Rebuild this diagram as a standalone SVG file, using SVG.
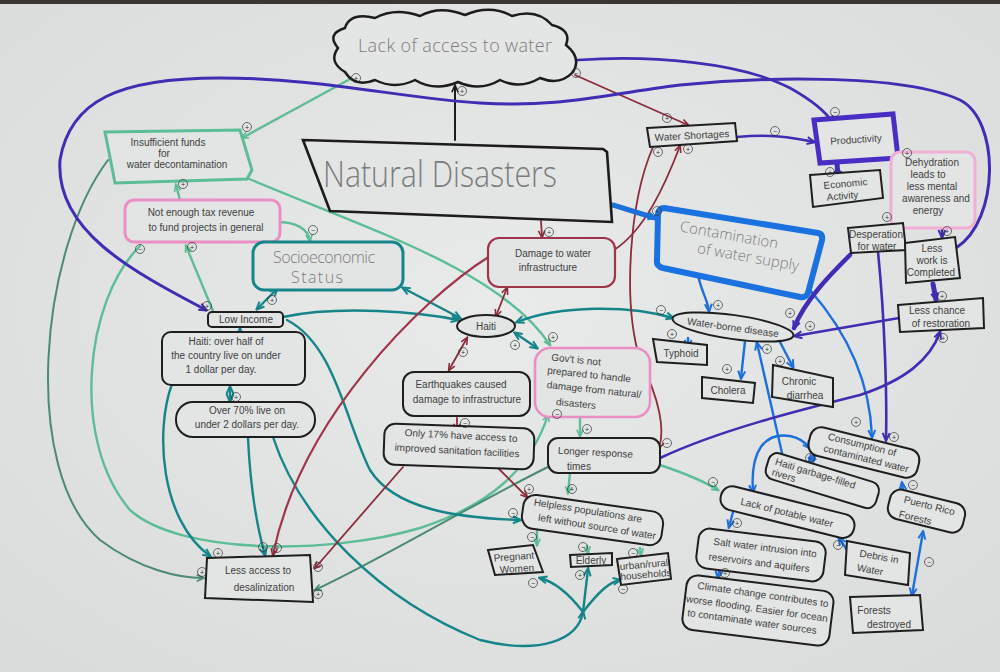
<svg xmlns="http://www.w3.org/2000/svg" width="1000" height="672" viewBox="0 0 1000 672">
<defs>
<radialGradient id="paper" cx="50%" cy="45%" r="75%"><stop offset="0" stop-color="#e9ebea"/><stop offset="1" stop-color="#d9dbda"/></radialGradient>
<marker id="ak" viewBox="0 0 10 10" refX="8" refY="5" markerWidth="9" markerHeight="9" markerUnits="userSpaceOnUse" orient="auto-start-reverse"><path d="M1,1.5 L9,5 L1,8.5" fill="none" stroke="#1c1c1c" stroke-width="1.8"/></marker>
<marker id="am" viewBox="0 0 10 10" refX="8" refY="5" markerWidth="9" markerHeight="9" markerUnits="userSpaceOnUse" orient="auto-start-reverse"><path d="M1,1.5 L9,5 L1,8.5" fill="none" stroke="#5cbd96" stroke-width="1.8"/></marker>
<marker id="ag" viewBox="0 0 10 10" refX="8" refY="5" markerWidth="9" markerHeight="9" markerUnits="userSpaceOnUse" orient="auto-start-reverse"><path d="M1,1.5 L9,5 L1,8.5" fill="none" stroke="#4b8a73" stroke-width="1.8"/></marker>
<marker id="at" viewBox="0 0 10 10" refX="8" refY="5" markerWidth="10" markerHeight="10" markerUnits="userSpaceOnUse" orient="auto-start-reverse"><path d="M1,1.5 L9,5 L1,8.5" fill="none" stroke="#15858a" stroke-width="2"/></marker>
<marker id="ar" viewBox="0 0 10 10" refX="8" refY="5" markerWidth="9" markerHeight="9" markerUnits="userSpaceOnUse" orient="auto-start-reverse"><path d="M1,1.5 L9,5 L1,8.5" fill="none" stroke="#8b2c3b" stroke-width="1.8"/></marker>
<marker id="ab" viewBox="0 0 10 10" refX="8" refY="5" markerWidth="10" markerHeight="10" markerUnits="userSpaceOnUse" orient="auto-start-reverse"><path d="M1,1.5 L9,5 L1,8.5" fill="none" stroke="#1e6fd9" stroke-width="2"/></marker>
<marker id="ap" viewBox="0 0 10 10" refX="8" refY="5" markerWidth="10" markerHeight="10" markerUnits="userSpaceOnUse" orient="auto-start-reverse"><path d="M1,1.5 L9,5 L1,8.5" fill="none" stroke="#3f2db3" stroke-width="2"/></marker>
<style>
.t{font-family:"Liberation Sans",Arial,sans-serif;font-size:10px;fill:#404040;text-anchor:middle}
.big{font-family:"Open Sans","Liberation Sans",sans-serif;font-weight:300;fill:#7c7c7c;text-anchor:middle}
.box{fill:#e3e5e4;stroke:#1e1e1e;stroke-width:2}
.c path{fill:none;stroke-linecap:round;stroke-linejoin:round}
.k{stroke:#1c1c1c;stroke-width:2;marker-end:url(#ak)}
.m{stroke:#5cbd96;stroke-width:2.4;marker-end:url(#am)}
.g{stroke:#4b8a73;stroke-width:2;marker-end:url(#ag)}
.tl{stroke:#15858a;stroke-width:2.4;marker-end:url(#at)}
.r{stroke:#8b2c3b;stroke-width:1.8;marker-end:url(#ar)}
.b{stroke:#1e6fd9;stroke-width:2.4;marker-end:url(#ab)}
.p{stroke:#3f2db3;stroke-width:2.6;marker-end:url(#ap)}
.sg circle{fill:none;stroke:#333;stroke-width:0.7}
.sg text{font-family:"Liberation Sans",Arial,sans-serif;font-size:7px;fill:#333;text-anchor:middle}
</style>
</defs>
<rect width="1000" height="672" fill="url(#paper)"/>
<rect width="1000" height="4" fill="#3b3631"/>

<g id="connectors" class="c">
<path class="k" d="M455,140 L455,86"/>
<path class="m" d="M352,78 L242,138"/>
<path class="m" d="M180,200 L176,185"/>
<path class="m" d="M247,178 C370,230 500,270 550,345"/>
<path class="m" d="M213,311 L186,246"/>
<path class="m" d="M277,222 C295,222 308,228 310,241"/>
<path class="m" d="M140,246 C85,300 70,440 130,510 C180,555 330,555 420,528 C490,505 530,470 548,415"/>
<path class="m" d="M660,465 C690,475 705,482 718,490"/>
<path class="m" d="M580,417 L580,436"/>
<path class="m" d="M570,473 L568,493"/>
<path class="m" d="M537,531 L537,545"/>
<path class="m" d="M587,546 L588,553"/>
<path class="m" d="M640,548 L641,555"/>
<path class="g" d="M108,160 C40,250 20,470 100,540 C140,570 180,578 203,578"/>
<path class="g" d="M552,465 C480,500 380,560 315,590"/>
<path class="tl" style="marker-start:url(#at)" d="M257,309 L277,289"/>
<path class="tl" d="M283,317 C340,305 420,312 458,320"/>
<path class="tl" style="marker-start:url(#at)" d="M403,288 L460,318"/>
<path class="tl" d="M287,320 C335,345 345,420 370,470 C395,510 460,518 520,520"/>
<path class="tl" d="M172,384 C155,430 160,520 210,556"/>
<path class="tl" d="M248,438 C250,480 255,520 265,555"/>
<path class="tl" d="M273,437 C300,520 380,600 480,640 C540,655 578,640 583,612"/>
<path class="tl" d="M583,612 C570,595 555,582 540,578"/>
<path class="tl" d="M583,612 L588,569"/>
<path class="tl" d="M583,612 C600,590 610,582 620,580"/>
<path class="tl" style="marker-start:url(#at)" d="M515,333 L537,348"/>
<path class="tl" style="marker-start:url(#at)" d="M517,322 C560,305 630,305 673,318"/>
<path class="tl" d="M240,334 L240,329"/>
<path class="tl" style="marker-start:url(#at)" d="M230,401 L230,387"/>
<path class="r" d="M575,75 L688,125"/>
<path class="r" d="M541,221 L542,237"/>
<path class="r" d="M614,250 C645,230 665,185 680,146"/>
<path class="r" d="M653,147 C630,200 622,300 640,360 C660,400 665,430 659,448"/>
<path class="r" style="marker-start:url(#ar)" d="M507,288 L496,316"/>
<path class="r" style="stroke:#a0344a;stroke-width:2.2" d="M490,256 C420,300 300,420 273,555"/>
<path class="r" style="marker-start:url(#ar)" d="M467,338 L449,370"/>
<path class="r" d="M457,418 L457,430"/>
<path class="r" d="M403,467 L315,568"/>
<path class="r" d="M497,467 L527,497"/>
<path class="b" style="stroke-width:5" d="M613,205 L655,218"/>
<path class="b" d="M697,270 C700,290 708,300 709,311"/>
<path class="b" d="M810,290 C845,330 870,380 872,437"/>
<path class="b" d="M688,338 L688,347"/>
<path class="b" d="M745,341 L741,378"/>
<path class="b" d="M780,342 L793,367"/>
<path class="b" d="M782,453 L757,343"/>
<path class="b" style="marker-start:url(#ab)" d="M753,492 C750,450 765,432 790,436 C800,438 805,442 810,448"/>
<path class="b" style="marker-start:url(#ab)" d="M809,462 L815,455"/>
<path class="b" d="M903,491 L902,483"/>
<path class="b" style="marker-start:url(#ab)" d="M912,595 L923,532"/>
<path class="b" d="M733,512 L729,527"/>
<path class="b" d="M720,564 L718,578"/>
<path class="b" d="M847,550 L839,538"/>
<path class="p" d="M578,60 C650,55 740,62 790,88 C815,102 828,115 833,123"/>
<path class="p" d="M737,137 C770,134 790,137 814,142"/>
<path class="p" style="stroke-width:5" d="M837,163 L838,178"/>
<path class="p" style="stroke-width:4" d="M896,148 L899,159"/>
<path class="p" d="M902,213 L898,223"/>
<path class="p" d="M942,229 L942,237"/>
<path class="p" style="stroke-width:5" d="M933,284 L936,300"/>
<path class="p" style="stroke-width:3" d="M956,248 C1000,220 1000,120 960,100 C900,72 750,78 680,85 C600,95 560,108 480,103 C400,98 320,78 220,78 C120,78 70,100 60,160 C55,230 130,270 206,310"/>
<path class="p" style="stroke-width:4.5" d="M850,255 C830,275 805,300 794,328"/>
<path class="p" d="M899,318 C860,325 830,330 795,336"/>
<path class="p" d="M878,252 C885,320 887,400 886,440"/>
<path class="p" d="M660,458 C720,430 800,410 860,395 C905,380 930,360 940,332"/>
</g>

<g id="n-lack">
<path d="M345,72 Q328,62 338,48 Q326,34 345,28 Q350,12 375,18 Q395,7 420,16 Q440,5 465,15 Q490,4 512,16 Q537,8 552,25 Q572,30 566,45 Q582,58 573,72 Q560,86 540,78 Q520,90 500,80 Q480,92 458,82 Q435,92 415,80 Q395,90 375,80 Q355,88 345,72 Z" fill="#e4e6e5" stroke="#1c1c1c" stroke-width="2.5"/>
<text class="big" x="455" y="52" font-size="18" textLength="194">Lack of access to water</text>
</g>
<g id="n-natural">
<path d="M303,140 L603,149 L607,152 L612,222 L330,211 Z" fill="#e3e5e4" stroke="#1c1c1c" stroke-width="2.6"/>
<text class="big" x="440" y="187" font-size="36" textLength="234" lengthAdjust="spacingAndGlyphs">Natural Disasters</text>
</g>
<g id="n-insufficient">
<path d="M105,132 L240,130 L252,170 L247,179 L115,183 Z" fill="#e3e5e4" stroke="#5cbd96" stroke-width="3"/>
<text class="t" x="168" y="146">Insufficient funds</text>
<text class="t" x="164" y="157">for</text>
<text class="t" x="177" y="168">water decontamination</text>
</g>
<g id="n-taxrev">
<rect x="125" y="200" width="155" height="42" rx="9" fill="#e3e5e4" stroke="#ea8ec5" stroke-width="3"/>
<text class="t" x="201" y="216">Not enough tax revenue</text>
<text class="t" x="206" y="231">to fund projects in general</text>
</g>
<g id="n-socio">
<rect x="253" y="242" width="150" height="48" rx="11" fill="#e3e5e4" stroke="#15858a" stroke-width="3"/>
<text class="big" x="324" y="263" font-size="16" textLength="102">Socioeconomic</text>
<text class="big" x="317" y="283" font-size="16" textLength="52">Status</text>
</g>
<g id="n-lowincome">
<rect x="208" y="312" width="75" height="15" rx="4" class="box"/>
<text class="t" x="246" y="323">Low Income</text>
</g>
<g id="n-haitihalf">
<rect x="162" y="332" width="143" height="53" rx="9" class="box"/>
<text class="t" x="226" y="345">Haiti: over half of</text>
<text class="t" x="226" y="359">the country live on under</text>
<text class="t" x="221" y="373">1 dollar per day.</text>
</g>
<g id="n-over70">
<rect x="176" y="402" width="139" height="35" rx="17" class="box"/>
<text class="t" x="247" y="414">Over 70% live on</text>
<text class="t" x="247" y="428">under 2 dollars per day.</text>
</g>
<g id="n-haiti">
<ellipse cx="486" cy="326" rx="29" ry="11" class="box"/>
<text class="t" x="486" y="330" font-size="11">Haiti</text>
</g>
<g id="n-damage">
<rect x="488" y="238" width="127" height="49" rx="11" fill="#e3e5e4" stroke="#a0344a" stroke-width="2.2"/>
<text class="t" x="553" y="257">Damage to water</text>
<text class="t" x="548" y="271">infrastructure</text>
</g>
<g id="n-shortages">
<path d="M647,128 L735,123 L737,141 L650,147 Z" class="box"/>
<text class="t" x="692" y="139" transform="rotate(-3 692 136)">Water Shortages</text>
</g>
<g id="n-productivity">
<path d="M814,120 L893,114 L898,158 L820,163 Z" fill="#e3e5e4" stroke="#4a2ec4" stroke-width="5"/>
<text class="t" x="856" y="143" font-size="12" fill="#777" transform="rotate(-4 856 140)">Productivity</text>
</g>
<g id="n-economic">
<path d="M810,175 L880,170 L883,198 L813,207 Z" class="box"/>
<text class="t" x="846" y="187" transform="rotate(-5 846 190)">Economic</text>
<text class="t" x="842" y="199" transform="rotate(-5 846 190)">Activity</text>
</g>
<g id="n-dehydration">
<rect x="891" y="152" width="84" height="76" rx="9" fill="#e3e5e4" stroke="#f2aed4" stroke-width="3"/>
<text class="t" x="932" y="166" font-size="9">Dehydration</text>
<text class="t" x="928" y="178" font-size="9">leads to</text>
<text class="t" x="932" y="190" font-size="9">less mental</text>
<text class="t" x="936" y="202" font-size="9">awareness and</text>
<text class="t" x="928" y="214" font-size="9">energy</text>
</g>
<g id="n-contamination">
<path d="M664,208 L818,233 Q823,234 822,240 L808,293 Q806,298 800,297 L663,268 Q656,266 657,260 L658,214 Q659,208 664,208 Z" fill="#e3e5e4" stroke="#1a72e0" stroke-width="6"/>
<text class="big" x="729" y="240" font-size="15" transform="rotate(10 729 236)">Contamination</text>
<text class="big" x="748" y="262" font-size="15" transform="rotate(10 748 258)">of water supply</text>
</g>
<g id="n-desperation">
<path d="M848,228 L903,223 L906,250 L851,253 Z" class="box"/>
<text class="t" x="876" y="238" font-size="9">Desperation</text>
<text class="t" x="877" y="250" font-size="9">for water</text>
</g>
<g id="n-lesswork">
<path d="M905,243 L955,237 L960,278 L906,283 Z" class="box"/>
<text class="t" x="932" y="252" font-size="9.5">Less</text>
<text class="t" x="932" y="264" font-size="9.5">work is</text>
<text class="t" x="931" y="276" font-size="9.5">Completed</text>
</g>
<g id="n-restoration">
<path d="M898,305 L983,298 L984,328 L900,332 Z" class="box"/>
<text class="t" x="937" y="314">Less chance</text>
<text class="t" x="941" y="327">of restoration</text>
</g>
<g id="n-waterborne">
<ellipse cx="733" cy="327" rx="61" ry="12" class="box" transform="rotate(8 733 327)"/>
<text class="t" x="733" y="331" transform="rotate(8 733 327)">Water-borne disease</text>
</g>
<g id="n-typhoid">
<path d="M653,339 L707,345 L707,365 L657,362 Z" class="box"/>
<text class="t" x="681" y="357" font-size="9.5">Typhoid</text>
</g>
<g id="n-cholera">
<path d="M702,377 L755,383 L753,403 L702,398 Z" class="box"/>
<text class="t" x="728" y="394" font-size="9.5">Cholera</text>
</g>
<g id="n-diarrhea">
<path d="M773,365 L833,378 L833,407 L772,397 Z" class="box"/>
<text class="t" x="799" y="385" font-size="9.5">Chronic</text>
<text class="t" x="805" y="399" font-size="9.5">diarrhea</text>
</g>
<g id="n-earthquakes">
<rect x="403" y="372" width="127" height="44" rx="11" class="box"/>
<text class="t" x="461" y="388">Earthquakes caused</text>
<text class="t" x="467" y="403">damage to infrastructure</text>
</g>
<g id="n-sanitation">
<rect x="384" y="426" width="150" height="41" rx="11" class="box" transform="rotate(2 459 446)"/>
<text class="t" x="461" y="439" transform="rotate(3 461 436)">Only 17% have access to</text>
<text class="t" x="457" y="454" transform="rotate(3 457 451)">improved sanitation facilities</text>
</g>
<g id="n-govt">
<rect x="535" y="348" width="115" height="69" rx="15" fill="#e3e5e4" stroke="#ea8ec5" stroke-width="2.6"/>
<text class="t" x="576" y="363" transform="rotate(6 576 360)">Gov't is not</text>
<text class="t" x="589" y="378" transform="rotate(6 589 375)">prepared to handle</text>
<text class="t" x="594" y="393" transform="rotate(6 594 390)">damage from natural/</text>
<text class="t" x="576" y="407" transform="rotate(6 576 404)">disasters</text>
</g>
<g id="n-response">
<rect x="548" y="438" width="112" height="35" rx="10" class="box"/>
<text class="t" x="558" y="456" font-size="13.5" style="text-anchor:start" transform="rotate(3 600 452)">Longer response</text>
<text class="t" x="567" y="470" font-size="12" style="text-anchor:start">times</text>
</g>
<g id="n-helpless">
<rect x="522" y="503" width="141" height="34" rx="12" class="box" transform="rotate(8 592 520)"/>
<text class="t" x="588" y="514" transform="rotate(9 588 511)">Helpless populations are</text>
<text class="t" x="597" y="530" transform="rotate(9 597 527)">left without source of water</text>
</g>
<g id="n-pregnant">
<path d="M488,550 L533,545 L543,572 L495,575 Z" class="box"/>
<text class="t" x="514" y="560" font-size="9" transform="rotate(-4 514 558)">Pregnant</text>
<text class="t" x="517" y="572" font-size="9" transform="rotate(-4 517 570)">Women</text>
</g>
<g id="n-elderly">
<path d="M570,555 L612,553 L612,565 L571,567 Z" class="box"/>
<text class="t" x="591" y="564" font-size="10">Elderly</text>
</g>
<g id="n-urban">
<path d="M617,559 L668,553 L671,579 L621,585 Z" class="box"/>
<text class="t" x="644" y="568" font-size="7" transform="rotate(-5 644 566)">urban/rural</text>
<text class="t" x="646" y="578" font-size="7" transform="rotate(-5 646 576)">households</text>
</g>
<g id="n-desal">
<path d="M207,558 L310,555 L313,602 L205,598 Z" class="box"/>
<text class="t" x="258" y="574" font-size="12.5" fill="#555">Less access to</text>
<text class="t" x="264" y="591" font-size="12.5" fill="#555">desalinization</text>
</g>
<g id="n-consumption">
<rect x="808" y="438" width="112" height="29" rx="11" class="box" transform="rotate(14 864 452)"/>
<text class="t" x="862" y="448" transform="rotate(14 862 445)">Consumption of</text>
<text class="t" x="866" y="462" transform="rotate(14 866 459)">contaminated water</text>
</g>
<g id="n-garbage">
<g transform="rotate(17 822 480)">
<rect x="765" y="467" width="115" height="27" rx="9" class="box"/>
<text class="t" x="772" y="479" style="text-anchor:start">Haiti  garbage-filled</text>
<text class="t" x="772" y="490" style="text-anchor:start">rivers</text>
</g>
</g>
<g id="n-potable">
<rect x="719" y="500" width="137" height="24" rx="11" class="box" transform="rotate(14 787 512)"/>
<text class="t" x="787" y="516" font-size="12" transform="rotate(14 787 512)">Lack of potable water</text>
</g>
<g id="n-puerto">
<rect x="888" y="496" width="77" height="30" rx="11" class="box" transform="rotate(14 926 511)"/>
<text class="t" x="929" y="509" font-size="9" transform="rotate(14 929 507)">Puerto Rico</text>
<text class="t" x="915" y="521" font-size="9" transform="rotate(14 915 519)">Forests</text>
</g>
<g id="n-saltwater">
<rect x="697" y="535" width="128" height="40" rx="11" class="box" transform="rotate(7 761 555)"/>
<text class="t" x="765" y="551" font-size="11" transform="rotate(7 765 548)">Salt water intrusion into</text>
<text class="t" x="759" y="566" font-size="11" transform="rotate(7 759 563)">reservoirs and aquifers</text>
</g>
<g id="n-debris">
<path d="M847,541 L910,553 L908,585 L845,575 Z" class="box"/>
<text class="t" x="879" y="560" font-size="10" transform="rotate(10 879 557)">Debris in</text>
<text class="t" x="870" y="573" font-size="10" transform="rotate(10 870 570)">Water</text>
</g>
<g id="n-climate">
<rect x="684" y="583" width="148" height="55" rx="11" class="box" transform="rotate(7 758 610)"/>
<text class="t" x="763" y="598" font-size="9" transform="rotate(8 763 595)">Climate change contributes to</text>
<text class="t" x="757" y="612" font-size="9" transform="rotate(8 757 609)">worse flooding. Easier for ocean</text>
<text class="t" x="752" y="625" font-size="9" transform="rotate(8 752 622)">to contaminate water sources</text>
</g>
<g id="n-forests">
<path d="M850,597 L920,595 L923,630 L853,633 Z" class="box"/>
<text class="t" x="874" y="614" font-size="10">Forests</text>
<text class="t" x="889" y="628" font-size="10">destroyed</text>
</g>

<g id="signs" class="sg">
<g><circle cx="462" cy="91" r="4.5"/><text x="462" y="93.5">+</text></g>
<g><circle cx="356" cy="78" r="4.5"/><text x="356" y="80.5">+</text></g>
<g><circle cx="247" cy="127" r="4.5"/><text x="247" y="129.5">+</text></g>
<g><circle cx="183" cy="184" r="4.5"/><text x="183" y="186.5">+</text></g>
<g><circle cx="576" cy="73" r="4.5"/><text x="576" y="75.5">−</text></g>
<g><circle cx="667" cy="118" r="4.5"/><text x="667" y="120.5">+</text></g>
<g><circle cx="658" cy="152" r="4.5"/><text x="658" y="154.5">+</text></g>
<g><circle cx="688" cy="149" r="4.5"/><text x="688" y="151.5">+</text></g>
<g><circle cx="835" cy="112" r="4.5"/><text x="835" y="114.5">−</text></g>
<g><circle cx="775" cy="131" r="4.5"/><text x="775" y="133.5">−</text></g>
<g><circle cx="830" cy="172" r="4.5"/><text x="830" y="174.5">+</text></g>
<g><circle cx="907" cy="153" r="4.5"/><text x="907" y="155.5">+</text></g>
<g><circle cx="887" cy="217" r="4.5"/><text x="887" y="219.5">+</text></g>
<g><circle cx="947" cy="231" r="4.5"/><text x="947" y="233.5">+</text></g>
<g><circle cx="942" cy="296" r="4.5"/><text x="942" y="298.5">+</text></g>
<g><circle cx="657" cy="211" r="4.5"/><text x="657" y="213.5">+</text></g>
<g><circle cx="549" cy="232" r="4.5"/><text x="549" y="234.5">+</text></g>
<g><circle cx="718" cy="305" r="4.5"/><text x="718" y="307.5">+</text></g>
<g><circle cx="790" cy="313" r="4.5"/><text x="790" y="315.5">+</text></g>
<g><circle cx="810" cy="326" r="4.5"/><text x="810" y="328.5">+</text></g>
<g><circle cx="661" cy="310" r="4.5"/><text x="661" y="312.5">−</text></g>
<g><circle cx="672" cy="334" r="4.5"/><text x="672" y="336.5">+</text></g>
<g><circle cx="727" cy="369" r="4.5"/><text x="727" y="371.5">+</text></g>
<g><circle cx="767" cy="349" r="4.5"/><text x="767" y="351.5">+</text></g>
<g><circle cx="780" cy="361" r="4.5"/><text x="780" y="363.5">+</text></g>
<g><circle cx="943" cy="338" r="4.5"/><text x="943" y="340.5">+</text></g>
<g><circle cx="856" cy="422" r="4.5"/><text x="856" y="424.5">+</text></g>
<g><circle cx="894" cy="437" r="4.5"/><text x="894" y="439.5">+</text></g>
<g><circle cx="313" cy="230" r="4.5"/><text x="313" y="232.5">−</text></g>
<g><circle cx="207" cy="306" r="4.5"/><text x="207" y="308.5">+</text></g>
<g><circle cx="140" cy="249" r="4.5"/><text x="140" y="251.5">−</text></g>
<g><circle cx="192" cy="247" r="4.5"/><text x="192" y="249.5">+</text></g>
<g><circle cx="272" cy="300" r="4.5"/><text x="272" y="302.5">+</text></g>
<g><circle cx="236" cy="397" r="4.5"/><text x="236" y="399.5">+</text></g>
<g><circle cx="515" cy="345" r="4.5"/><text x="515" y="347.5">+</text></g>
<g><circle cx="553" cy="337" r="4.5"/><text x="553" y="339.5">+</text></g>
<g><circle cx="463" cy="352" r="4.5"/><text x="463" y="354.5">+</text></g>
<g><circle cx="465" cy="423" r="4.5"/><text x="465" y="425.5">−</text></g>
<g><circle cx="557" cy="414" r="4.5"/><text x="557" y="416.5">−</text></g>
<g><circle cx="587" cy="429" r="4.5"/><text x="587" y="431.5">+</text></g>
<g><circle cx="667" cy="443" r="4.5"/><text x="667" y="445.5">−</text></g>
<g><circle cx="529" cy="489" r="4.5"/><text x="529" y="491.5">+</text></g>
<g><circle cx="572" cy="489" r="4.5"/><text x="572" y="491.5">+</text></g>
<g><circle cx="513" cy="513" r="4.5"/><text x="513" y="515.5">−</text></g>
<g><circle cx="218" cy="553" r="4.5"/><text x="218" y="555.5">+</text></g>
<g><circle cx="263" cy="547" r="4.5"/><text x="263" y="549.5">+</text></g>
<g><circle cx="277" cy="548" r="4.5"/><text x="277" y="550.5">+</text></g>
<g><circle cx="202" cy="572" r="4.5"/><text x="202" y="574.5">+</text></g>
<g><circle cx="318" cy="567" r="4.5"/><text x="318" y="569.5">−</text></g>
<g><circle cx="318" cy="594" r="4.5"/><text x="318" y="596.5">+</text></g>
<g><circle cx="713" cy="482" r="4.5"/><text x="713" y="484.5">−</text></g>
<g><circle cx="737" cy="523" r="4.5"/><text x="737" y="525.5">+</text></g>
<g><circle cx="725" cy="573" r="4.5"/><text x="725" y="575.5">+</text></g>
<g><circle cx="838" cy="545" r="4.5"/><text x="838" y="547.5">−</text></g>
<g><circle cx="929" cy="562" r="4.5"/><text x="929" y="564.5">−</text></g>
<g><circle cx="913" cy="485" r="4.5"/><text x="913" y="487.5">−</text></g>
<g><circle cx="810" cy="458" r="4.5"/><text x="810" y="460.5">−</text></g>
<g><circle cx="532" cy="537" r="4.5"/><text x="532" y="539.5">−</text></g>
<g><circle cx="583" cy="547" r="4.5"/><text x="583" y="549.5">−</text></g>
<g><circle cx="633" cy="553" r="4.5"/><text x="633" y="555.5">−</text></g>
<g><circle cx="533" cy="583" r="4.5"/><text x="533" y="585.5">−</text></g>
<g><circle cx="580" cy="575" r="4.5"/><text x="580" y="577.5">+</text></g>
<g><circle cx="623" cy="589" r="4.5"/><text x="623" y="591.5">−</text></g>
</g>
</svg>
